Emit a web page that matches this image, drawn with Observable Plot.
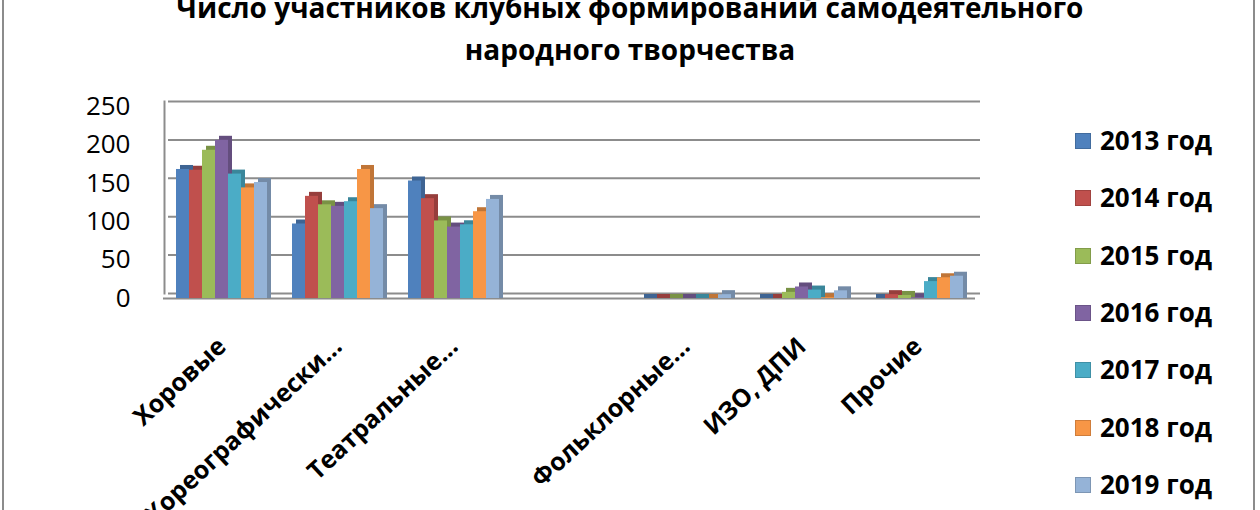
<!DOCTYPE html>
<html>
<head>
<meta charset="utf-8">
<script src="https://cdn.jsdelivr.net/npm/d3@7"></script>
<script src="https://cdn.jsdelivr.net/npm/@observablehq/plot@0.6"></script>
<style>
  html, body { margin: 0; padding: 0; background: #fff; }
  body { width: 1260px; height: 510px; overflow: hidden; position: relative; font-family: "Open Sans", sans-serif; }
  #frame { position: absolute; left: 2px; top: -10px; width: 1253px; height: 540px; border: 2px solid #8c8c8c; box-sizing: border-box; }
  #title { height: 80px; text-align: center; font-weight: bold; font-size: 28px; line-height: 42px; color: #000; position: relative; }
  #title .inner { position: relative; top: -14px; }
  #chart { position: relative; }
  #legend { position: absolute; left: 1075px; top: 0; }
  .item { position: absolute; left: 0; width: 200px; height: 30px; white-space: nowrap; }
  .sw { position: absolute; left: 0; top: 7px; width: 16px; height: 16px; box-sizing: border-box; }
  .lb { position: absolute; left: 25px; top: -6px; font-weight: bold; font-size: 26px; line-height: 40px; }
</style>
</head>
<body>
<div id="frame"></div>
<div id="title"><div class="inner">Число участников клубных формирований самодеятельного<br>народного творчества</div></div>
<div id="chart"></div>
<div id="legend"></div>
<script>
const categories = ["Хоровые", "Хореографически...", "Театральные...", " ", "Фольклорные...", "ИЗО, ДПИ", "Прочие"];
const years = ["2013 год", "2014 год", "2015 год", "2016 год", "2017 год", "2018 год", "2019 год"];
const colors = ["#4F81BD", "#C0504D", "#9BBB59", "#8064A2", "#4BACC6", "#F79646", "#95B3D7"];
const yTicks = [0, 50, 100, 150, 200, 250];

const v2013 = [168, 97, 153, null, 0, 0, 0];
const v2014 = [167, 133, 130, null, 0, 0, 5];
const v2015 = [193, 122, 101, null, 0, 8, 4];
const v2016 = [206, 120, 93, null, 0, 15, 1];
const v2017 = [162, 126, 96, null, 0, 11, 22];
const v2018 = [144, 168, 113, null, 0, 1, 27];
const v2019 = [151, 117, 129, null, 5, 10, 29];
const series = [v2013, v2014, v2015, v2016, v2017, v2018, v2019];

const rows = [];
years.forEach((yr, i) => categories.forEach((c, j) => {
  const v = series[i][j];
  if (v != null) rows.push({category: c, year: yr, value: v});
}));

const shadowMarks = years.map((yr, i) => Plot.barY(rows.filter(r => r.year === yr), {
  fx: "category", x: "year", y: "value",
  fill: d3.color(colors[i]).darker(0.7).formatHex(),
  dx: 4, dy: -4, insetBottom: -4
}));
const frontMarks = years.map((yr, i) => Plot.barY(rows.filter(r => r.year === yr), {
  fx: "category", x: "year", y: "value",
  fill: colors[i]
}));

const chart = Plot.plot({
  width: 1260,
  height: 430,
  marginLeft: 160,
  marginRight: 282,
  marginTop: 26,
  marginBottom: 212,
  style: {fontFamily: "'Open Sans', sans-serif", color: "black", background: "transparent", overflow: "visible"},
  fx: {domain: categories, padding: 0, axis: null},
  x: {domain: years, paddingInner: 0, paddingOuter: 0.77, axis: null},
  y: {domain: [0, 250], axis: null},
  marks: [
    Plot.ruleY(yTicks, {stroke: "#8c8c8c", strokeWidth: 2, dx: 5, dy: -5}),
    Plot.ruleY([0], {stroke: "#8c8c8c", strokeWidth: 2}),
    Plot.frame({anchor: "left", facetAnchor: "left", stroke: "#8c8c8c", strokeWidth: 2, dx: 1, dy: -5}),
    Plot.axisY({ticks: yTicks, tickSize: 0, tickPadding: 33, fontSize: 26, fill: "black", label: null}),
    ...shadowMarks,
    ...frontMarks,
    Plot.text(categories, {
      fx: d => d, text: d => d, frameAnchor: "bottom",
      rotate: -43, textAnchor: "end", dx: 6, dy: 50,
      fontSize: 25, fontWeight: "bold", fill: "black"
    })
  ]
});
document.getElementById("chart").appendChild(chart);

const legend = document.getElementById("legend");
years.forEach((yr, i) => {
  const item = document.createElement("div");
  item.className = "item";
  item.style.top = (126 + i * 57.3) + "px";
  const sw = document.createElement("div");
  sw.className = "sw";
  sw.style.background = colors[i];
  sw.style.border = "1px solid " + d3.color(colors[i]).darker(0.5).formatHex();
  const lb = document.createElement("div");
  lb.className = "lb";
  lb.textContent = yr;
  item.appendChild(sw);
  item.appendChild(lb);
  legend.appendChild(item);
});
</script>
</body>
</html>
